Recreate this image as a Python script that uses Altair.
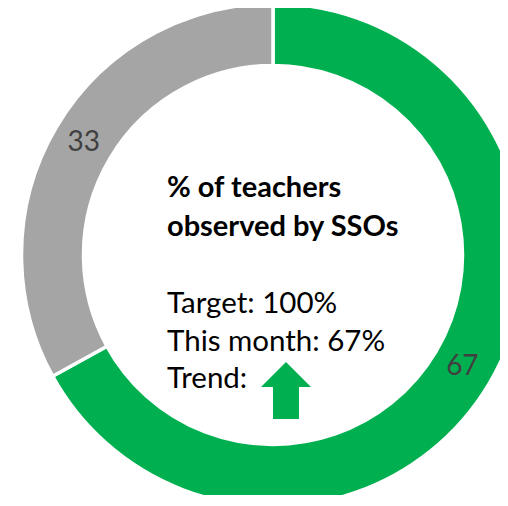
import altair as alt
import pandas as pd

categories = ["Observed", "Not observed"]
values = [67, 33]
colors = ["#00B050", "#A5A5A5"]
title_lines = ["% of teachers", "observed by SSOs"]
body_lines = ["Target: 100%", "This month: 67%", "Trend:"]

df = pd.DataFrame({"cat": categories, "val": values, "ord": [0, 1]})

CX, CY = 265, 247
FONT = "Lato"

base = alt.Chart(df).encode(
    theta=alt.Theta("val:Q", stack=True),
    order=alt.Order("ord:Q"),
)

ring = base.mark_arc(outerRadius=251.5, innerRadius=189.5, stroke="white", strokeWidth=3.5).encode(
    color=alt.Color("cat:N", scale=alt.Scale(domain=categories, range=colors), legend=None),
    x=alt.value(CX), y=alt.value(CY),
)

labels = base.mark_text(radius=220, font=FONT, fontSize=28, color="#404040",
                        align="center", baseline="middle").encode(
    text=alt.Text("val:Q"),
    detail="cat:N",
    x=alt.value(CX), y=alt.value(CY),
)

title = alt.Chart(pd.DataFrame({"t": [title_lines]})).mark_text(
    font=FONT, fontSize=29, fontWeight="bold", color="black",
    align="left", baseline="alphabetic", lineHeight=39,
).encode(text="t", x=alt.value(159), y=alt.value(189))

body = alt.Chart(pd.DataFrame({"t": [body_lines]})).mark_text(
    font=FONT, fontSize=29.5, color="black",
    align="left", baseline="alphabetic", lineHeight=37.5,
).encode(text="t", x=alt.value(159), y=alt.value(305))

arrow_path = "M0,-1 L0.877,-0.123 L0.456,-0.123 L0.456,1 L-0.456,1 L-0.456,-0.123 L-0.877,-0.123 Z"
arrow = alt.Chart(pd.DataFrame({"a": [1]})).mark_point(
    shape=arrow_path, filled=True, color="#00B050", opacity=1, size=3249, strokeWidth=0,
).encode(x=alt.value(278), y=alt.value(382.5))

chart = alt.layer(ring, labels, title, body, arrow).properties(
    width=492, height=487, padding=0, autosize=alt.AutoSizeParams(type="none"),
    background="white",
).configure_view(stroke=None)

chart.save("out.html", embed_options={"renderer": "svg", "actions": False})
